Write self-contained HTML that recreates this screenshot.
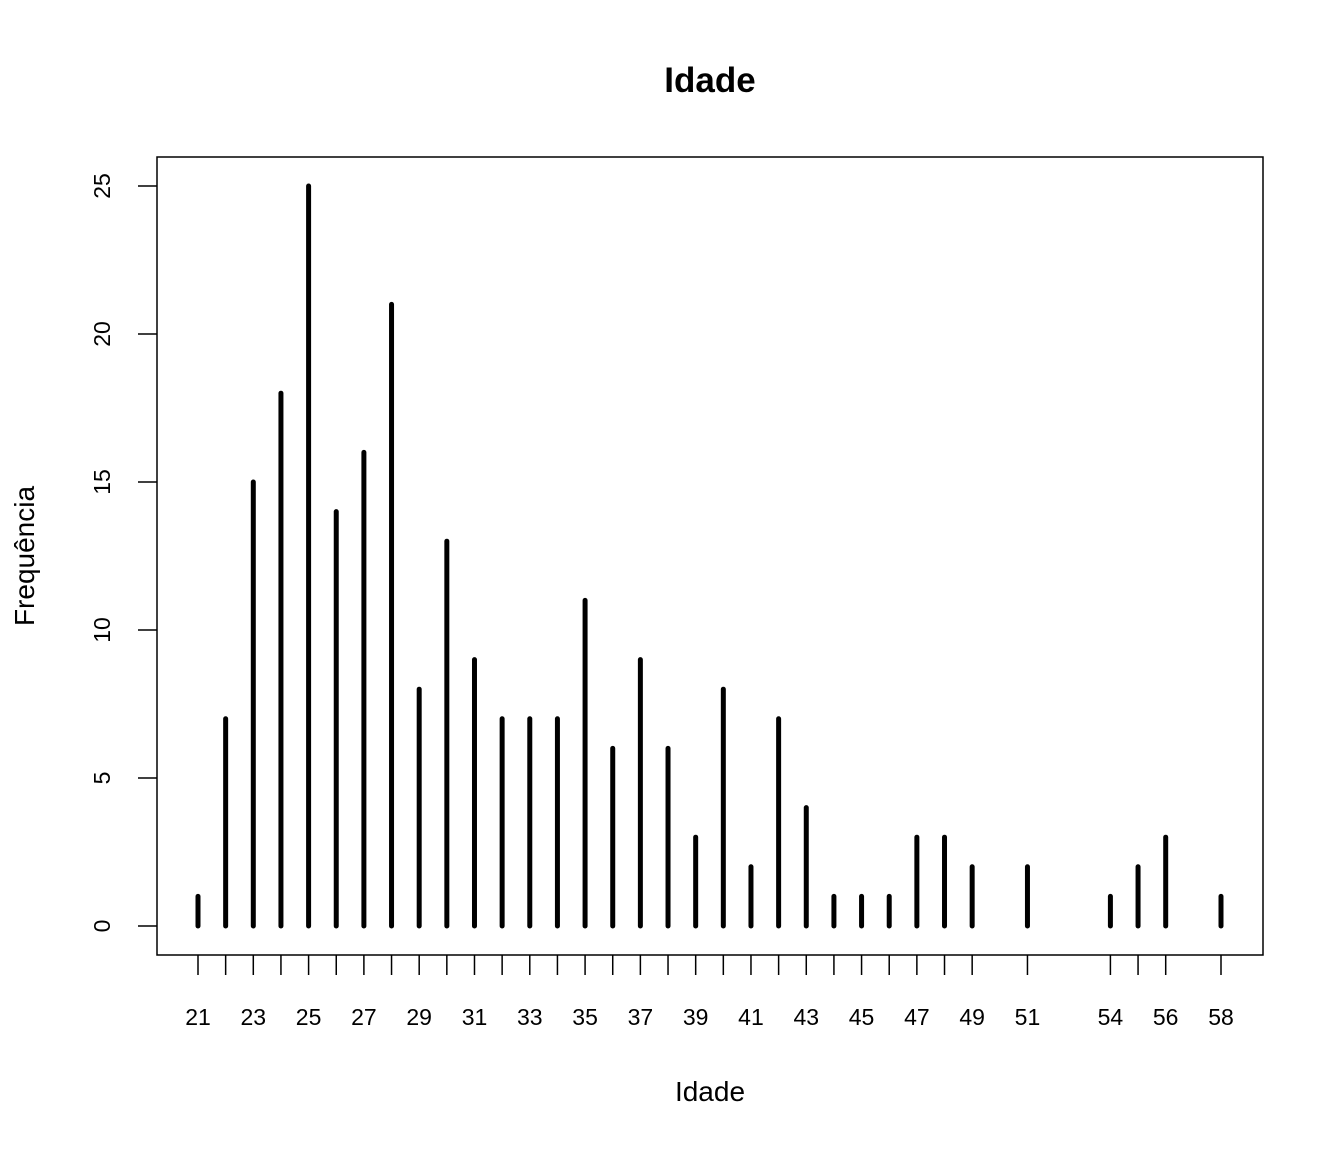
<!DOCTYPE html>
<html><head><meta charset="utf-8"><style>
html,body{margin:0;padding:0;background:#fff}
svg{display:block;font-family:"Liberation Sans",Helvetica,Arial,sans-serif}
</style></head><body>
<svg id="chart" width="1344" height="1152" viewBox="0 0 1344 1152">
<text x="710" y="92" text-anchor="middle" font-size="35" font-weight="bold">Idade</text>
<rect x="157" y="157" width="1106" height="798" fill="none" stroke="#000" stroke-width="1.5"/>
<text x="710" y="1101" text-anchor="middle" font-size="28">Idade</text>
<text transform="translate(34,556) rotate(-90)" text-anchor="middle" font-size="28">Frequência</text>
<g id="bars"></g><g id="xaxis"></g><g id="yaxis"></g>
</svg>
<script>
const ages=[21,22,23,24,25,26,27,28,29,30,31,32,33,34,35,36,37,38,39,40,41,42,43,44,45,46,47,48,49,51,54,55,56,58];
const counts=[1,7,15,18,25,14,16,21,8,13,9,7,7,7,11,6,9,6,3,8,2,7,4,1,1,1,3,3,2,2,1,2,3,1];
const xLabels=[21,23,25,27,29,31,33,35,37,39,41,43,45,47,49,51,54,56,58];
const yTicks=[0,5,10,15,20,25];
const NS="http://www.w3.org/2000/svg";
const xs=v=>198+(v-21)*(1221-198)/37;
const ys=v=>926-v*(926-186)/25;
function mk(t,a,p){const e=document.createElementNS(NS,t);for(const k in a)e.setAttribute(k,a[k]);p.appendChild(e);return e;}
const gb=document.getElementById('bars'),gx=document.getElementById('xaxis'),gy=document.getElementById('yaxis');
ages.forEach((a,i)=>{
 const l=mk('line',{x1:xs(a),x2:xs(a),y1:ys(0),y2:ys(counts[i]),stroke:'#000','stroke-width':5,'stroke-linecap':'round'},gb);
 
 
 const t=mk('line',{x1:xs(a),x2:xs(a),y1:955,y2:975,stroke:'#000','stroke-width':1.5},gx);
 
 
});
xLabels.forEach(a=>{
 const t=mk('text',{x:xs(a),y:1025,'text-anchor':'middle','font-size':23},gx);t.textContent=a;
 
 
});
yTicks.forEach(v=>{
 const l=mk('line',{x1:138,x2:157,y1:ys(v),y2:ys(v),stroke:'#000','stroke-width':1.5},gy);
 
 
 const t=mk('text',{transform:`translate(110,${ys(v)}) rotate(-90)`,'text-anchor':'middle','font-size':23},gy);t.textContent=v;
 
 
});
</script>
</body></html>
